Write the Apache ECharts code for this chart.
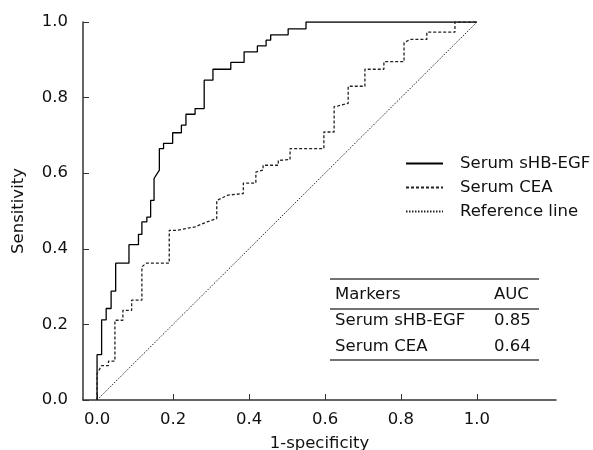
<!DOCTYPE html>
<html>
<head>
<meta charset="utf-8">
<script src="https://cdn.jsdelivr.net/npm/echarts@6/dist/echarts.min.js"></script>
<style>
    html, body { margin: 0; padding: 0; background: #fff; }
    #roc { width: 593px; height: 450px; }
</style>
</head>
<body>
<div id="roc"></div>
<script>
// ROC curve points [1-specificity, sensitivity]
var hbegfPoints = [
    [0, 0], [0, 0.12], [0.012, 0.12], [0.012, 0.212], [0.024, 0.212], [0.024, 0.242],
    [0.037, 0.242], [0.037, 0.288], [0.049, 0.288], [0.049, 0.362], [0.084, 0.362], [0.084, 0.411],
    [0.109, 0.411], [0.109, 0.438], [0.118, 0.438], [0.118, 0.471], [0.131, 0.471], [0.131, 0.484],
    [0.141, 0.484], [0.141, 0.528], [0.150, 0.528], [0.150, 0.586], [0.164, 0.608], [0.164, 0.665],
    [0.175, 0.665], [0.175, 0.679], [0.199, 0.679], [0.199, 0.707], [0.222, 0.707], [0.222, 0.727],
    [0.234, 0.727], [0.234, 0.756], [0.258, 0.756], [0.258, 0.771], [0.282, 0.771], [0.282, 0.846],
    [0.305, 0.846], [0.305, 0.875], [0.352, 0.875], [0.352, 0.893], [0.387, 0.893], [0.387, 0.921],
    [0.422, 0.921], [0.422, 0.937], [0.445, 0.937], [0.445, 0.952], [0.457, 0.952], [0.457, 0.966],
    [0.503, 0.966], [0.503, 0.982], [0.550, 0.982], [0.550, 1.0], [1.0, 1.0]
];
var ceaPoints = [
    [0, 0], [0, 0.07], [0.012, 0.091], [0.030, 0.091], [0.030, 0.103], [0.047, 0.103],
    [0.047, 0.211], [0.068, 0.211], [0.068, 0.237], [0.091, 0.237], [0.091, 0.264], [0.118, 0.264],
    [0.118, 0.352], [0.129, 0.362], [0.190, 0.362], [0.190, 0.449], [0.210, 0.449], [0.258, 0.458],
    [0.289, 0.471], [0.315, 0.480], [0.315, 0.528], [0.345, 0.542], [0.385, 0.546], [0.385, 0.574],
    [0.418, 0.574], [0.418, 0.603], [0.437, 0.608], [0.437, 0.621], [0.477, 0.621], [0.477, 0.634],
    [0.508, 0.636], [0.508, 0.665], [0.597, 0.665], [0.597, 0.709], [0.624, 0.709], [0.624, 0.776],
    [0.635, 0.778], [0.661, 0.785], [0.661, 0.830], [0.705, 0.830], [0.705, 0.875], [0.755, 0.875],
    [0.755, 0.895], [0.808, 0.895], [0.808, 0.945], [0.824, 0.954], [0.868, 0.954], [0.868, 0.973],
    [0.942, 0.973], [0.942, 1.0], [1.0, 1.0]
];
var refPoints = [[0, 0], [1, 1]];

var seriesNames = ['Serum sHB-EGF', 'Serum CEA', 'Reference line'];
var xTicks = [0, 0.2, 0.4, 0.6, 0.8, 1.0];
var tableHeader = ['Markers', 'AUC'];
var tableRows = [['Serum sHB-EGF', '0.85'], ['Serum CEA', '0.64']];

var fontFamily = 'DejaVu Sans';
var fontSize = 16.5;
var axisColor = '#333';

// AUC table drawn with graphic elements
var tableGraphic = [];
var tblLeft = 330, tblRight = 539;
[279, 309, 360].forEach(function (y) {
    tableGraphic.push({
        type: 'line',
        shape: {x1: tblLeft, y1: y, x2: tblRight, y2: y},
        style: {stroke: '#444', lineWidth: 1.5}
    });
});
var rowY = [295, 321, 347];
[tableHeader].concat(tableRows).forEach(function (row, i) {
    tableGraphic.push({
        type: 'text', x: 335, y: rowY[i],
        style: {text: row[0], font: fontSize + 'px ' + fontFamily, fill: '#111', verticalAlign: 'middle'}
    });
    tableGraphic.push({
        type: 'text', x: 494, y: rowY[i],
        style: {text: row[1], font: fontSize + 'px ' + fontFamily, fill: '#111', verticalAlign: 'middle'}
    });
});

var chart = echarts.init(document.getElementById('roc'));
var option = {
    animation: false,
    textStyle: {fontFamily: fontFamily},
    grid: {
        left: 83,
        right: 37,
        top: 22,
        bottom: 50,
        containLabel: false,
        outerBoundsMode: 'none'
    },
    legend: {
        orient: 'vertical',
        left: 405,
        top: 155,
        padding: 0,
        itemWidth: 37,
        itemHeight: 14,
        itemGap: 7,
        data: seriesNames,
        itemStyle: {opacity: 0},
        textStyle: {
            color: '#111',
            fontSize: fontSize,
            padding: [0, 0, 0, 12]
        }
    },
    xAxis: {
        type: 'value',
        min: -0.037,
        max: 1.208,
        name: '1-specificity',
        nameLocation: 'middle',
        nameGap: 35,
        nameTextStyle: {color: '#111', fontSize: fontSize},
        splitLine: {show: false},
        axisLine: {onZero: false, lineStyle: {color: axisColor, width: 1.5}},
        axisTick: {
            inside: true,
            length: 6,
            customValues: xTicks,
            lineStyle: {color: axisColor}
        },
        axisLabel: {
            customValues: xTicks,
            margin: 11,
            color: '#111',
            fontSize: fontSize,
            formatter: function (v) { return v.toFixed(1); }
        }
    },
    yAxis: {
        type: 'value',
        min: 0,
        max: 1,
        interval: 0.2,
        name: 'Sensitivity',
        nameLocation: 'middle',
        nameGap: 56,
        nameTextStyle: {color: '#111', fontSize: fontSize},
        splitLine: {show: false},
        axisLine: {show: true, onZero: false, lineStyle: {color: axisColor, width: 1.5}},
        axisTick: {show: true, inside: true, length: 6, lineStyle: {color: axisColor}},
        axisLabel: {
            margin: 15,
            color: '#111',
            fontSize: fontSize,
            formatter: function (v) { return v.toFixed(1); }
        }
    },
    series: [
        {
            name: seriesNames[0],
            type: 'line',
            data: hbegfPoints,
            symbol: 'none',
            lineStyle: {color: '#000', width: 1.3, type: 'solid'},
            itemStyle: {color: '#000'}
        },
        {
            name: seriesNames[1],
            type: 'line',
            data: ceaPoints,
            symbol: 'none',
            lineStyle: {color: '#222', width: 1.3, type: [3, 2]},
            itemStyle: {color: '#222'}
        },
        {
            name: seriesNames[2],
            type: 'line',
            data: refPoints,
            symbol: 'none',
            lineStyle: {color: '#222', width: 1, type: [1.5, 1.5]},
            itemStyle: {color: '#222'}
        }
    ],
    graphic: tableGraphic
};
chart.setOption(option);
</script>
</body>
</html>
